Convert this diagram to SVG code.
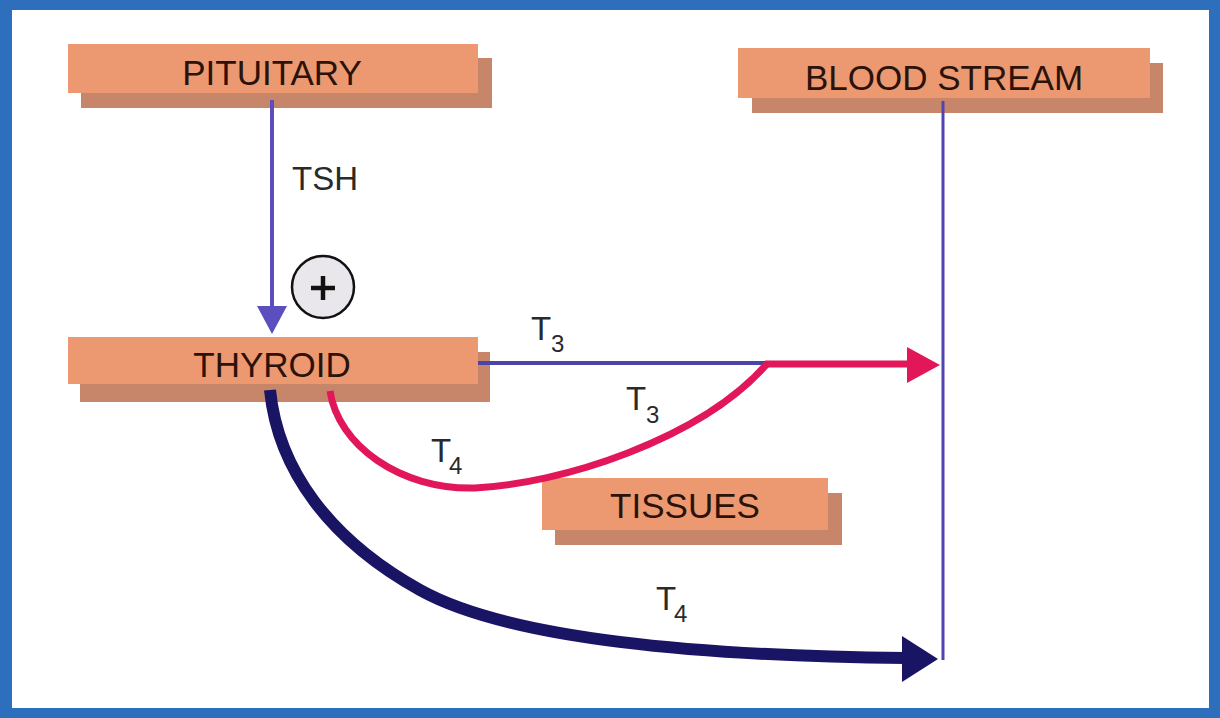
<svg xmlns="http://www.w3.org/2000/svg" width="1220" height="718" viewBox="0 0 1220 718">
  <style>
    .front { fill: #ec9870; }
    .shadow { fill: #c7866a; }
    .lbl { font-family: "Liberation Sans", Arial, sans-serif; font-size: 35px; fill: #2b120a; text-anchor: middle; }
    .t { font-family: "Liberation Sans", Arial, sans-serif; font-size: 33px; fill: #2a2a2a; }
    .sub { font-family: "Liberation Sans", Arial, sans-serif; font-size: 24px; fill: #2a2a2a; }
  </style>
  <rect x="0" y="0" width="1220" height="718" fill="#2e6fbd"/>
  <rect x="12" y="10" width="1197" height="698" fill="#ffffff"/>

  <g id="node-pituitary">
    <rect class="shadow" x="81" y="58" width="411" height="50"/>
    <rect class="front" x="68" y="44" width="410" height="49"/>
    <text class="lbl" x="272" y="85">PITUITARY</text>
  </g>

  <g id="node-blood-stream">
    <rect class="shadow" x="752" y="63" width="411" height="50"/>
    <rect class="front" x="738" y="48" width="412" height="50"/>
    <text class="lbl" x="944" y="90">BLOOD STREAM</text>
  </g>

  <g id="node-thyroid">
    <rect class="shadow" x="80" y="352" width="410" height="50"/>
    <rect class="front" x="68" y="337" width="410" height="47"/>
    <text class="lbl" x="272" y="377">THYROID</text>
  </g>

  <g id="node-tissues">
    <rect class="shadow" x="555" y="493" width="287" height="52"/>
    <rect class="front" x="542" y="478" width="286" height="52"/>
    <text class="lbl" x="685" y="518">TISSUES</text>
  </g>

  <g id="node-plus">
    <circle cx="323" cy="287" r="31" fill="#e9e7ec" stroke="#111111" stroke-width="2.5"/>
    <line x1="311" y1="288" x2="335" y2="288" stroke="#111111" stroke-width="4.5"/>
    <line x1="323" y1="276" x2="323" y2="300" stroke="#111111" stroke-width="4.5"/>
  </g>

  <g id="connectors">
    <!-- blood stream vertical line -->
    <line x1="943" y1="101" x2="943" y2="660" stroke="#5045b0" stroke-width="3"/>
    <!-- TSH arrow -->
    <line x1="272" y1="100" x2="272" y2="312" stroke="#5b4fc0" stroke-width="4"/>
    <polygon points="257,306 287,306 272,334" fill="#5b4fc0"/>
    <!-- T3 direct (blue) -->
    <line x1="478" y1="363" x2="768" y2="363" stroke="#4b45a8" stroke-width="4"/>
    <!-- T4 to tissues, T3 back (red) -->
    <path d="M330,391 C 338,445 400,490 475,488 C 560,484 700,440 767,364" fill="none" stroke="#e2175a" stroke-width="7"/>
    <line x1="765" y1="364" x2="912" y2="364" stroke="#e2175a" stroke-width="7"/>
    <polygon points="907,347 940,365 907,383" fill="#e2175a"/>
    <!-- T4 navy to blood -->
    <path d="M270,390 C 278,470 330,540 420,590 C 510,640 700,656 906,658" fill="none" stroke="#1a1464" stroke-width="12"/>
    <polygon points="902,636 938,659 902,682" fill="#1a1464"/>
  </g>

  <g id="labels">
    <text class="t" x="292" y="190">TSH</text>
    <text class="t" x="531" y="340">T</text><text class="sub" x="551" y="352">3</text>
    <text class="t" x="626" y="410">T</text><text class="sub" x="646" y="423">3</text>
    <text class="t" x="431" y="462">T</text><text class="sub" x="449" y="474">4</text>
    <text class="t" x="656" y="610">T</text><text class="sub" x="674" y="622">4</text>
  </g>
</svg>
